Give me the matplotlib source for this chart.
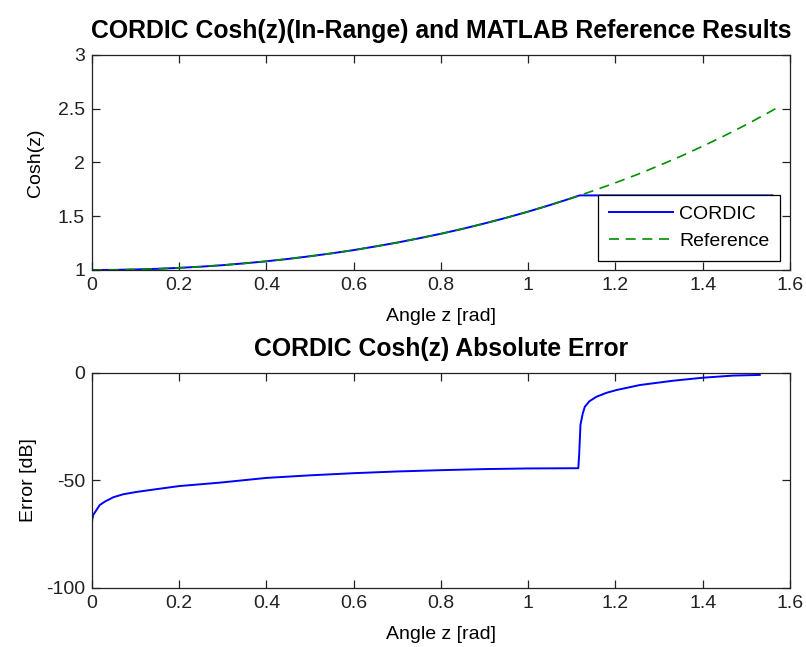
import numpy as np
import matplotlib
matplotlib.use("Agg")
import matplotlib.pyplot as plt

plt.rcParams['font.family'] = ['Liberation Sans', 'DejaVu Sans']

# top panel: reference cosh(z)
ref_z = [0, 0.05, 0.1, 0.15, 0.2, 0.25, 0.3, 0.35, 0.4, 0.45, 0.5, 0.55, 0.6,
         0.65, 0.7, 0.75, 0.8, 0.85, 0.9, 0.95, 1.0, 1.05, 1.1, 1.15, 1.2,
         1.25, 1.3, 1.35, 1.4, 1.45, 1.5, 1.55, 1.57]
ref_cosh = [1.0, 1.001, 1.005, 1.011, 1.02, 1.031, 1.045, 1.062, 1.081, 1.103,
            1.128, 1.155, 1.185, 1.219, 1.255, 1.295, 1.337, 1.383, 1.433,
            1.486, 1.543, 1.604, 1.669, 1.738, 1.811, 1.888, 1.971, 2.058,
            2.151, 2.249, 2.352, 2.462, 2.508]

# CORDIC output: follows the reference, then flat above z ~ 1.118
cordic_z = [0, 0.05, 0.1, 0.15, 0.2, 0.25, 0.3, 0.35, 0.4, 0.45, 0.5, 0.55, 0.6,
            0.65, 0.7, 0.75, 0.8, 0.85, 0.9, 0.95, 1.0, 1.05, 1.1, 1.118, 1.56]
cordic_cosh = [1.0, 1.001, 1.005, 1.011, 1.02, 1.031, 1.045, 1.062, 1.081,
               1.103, 1.128, 1.155, 1.185, 1.219, 1.255, 1.295, 1.337, 1.383,
               1.433, 1.486, 1.543, 1.604, 1.669, 1.694, 1.694]

# bottom panel: absolute error in dB
err_z = [0, 0.001, 0.003, 0.008, 0.018, 0.030, 0.049, 0.072, 0.103, 0.149,
         0.2, 0.293, 0.4, 0.5, 0.6, 0.7, 0.8, 0.9, 1.0, 1.1, 1.115, 1.117,
         1.12, 1.125, 1.13, 1.14, 1.157, 1.18, 1.203, 1.256, 1.332, 1.40,
         1.47, 1.531]
err_db = [-70, -68, -66, -64.5, -61.4, -59.8, -57.8, -56.4, -55.3, -54,
          -52.6, -51, -48.8, -47.6, -46.6, -45.8, -45.2, -44.7, -44.4, -44.3,
          -44.3, -38, -24, -19, -15.7, -13.2, -11, -9.2, -7.9, -5.6, -3.6,
          -2.2, -1.2, -0.9]

xticks = [0, 0.2, 0.4, 0.6, 0.8, 1, 1.2, 1.4, 1.6]
top_yticks = [1, 1.5, 2, 2.5, 3]
bot_yticks = [-100, -50, 0]

fs = 14
tfs = 17.8
fig = plt.figure(figsize=(8.06, 6.47), dpi=100)
ax1 = fig.add_axes([0.114, 0.5827, 0.866, 0.3323])
ax2 = fig.add_axes([0.114, 0.0912, 0.866, 0.3323])

ax1.plot(cordic_z, cordic_cosh, color='#0000ff', lw=1.4, label='CORDIC')
ax1.plot(ref_z, ref_cosh, color='#009000', lw=1.2, ls=(0, (6, 4)), label='Reference')
ax1.set_xlim(0, 1.6)
ax1.set_ylim(1, 3)
ax1.set_yticks(top_yticks)
ax1.set_yticklabels(['%g' % v for v in top_yticks])
ax1.set_xlabel('Angle z [rad]', fontsize=fs, labelpad=10)
ax1.set_ylabel('Cosh(z)', fontsize=fs, labelpad=10)
ax1.set_title('CORDIC Cosh(z)(In-Range) and MATLAB Reference Results',
              fontsize=tfs, fontweight='bold', pad=12)
leg = ax1.legend(loc='lower right', bbox_to_anchor=(0.9857, 0.042),
                 borderaxespad=0, fontsize=fs, fancybox=False, framealpha=1,
                 edgecolor='black', handlelength=3.3, handletextpad=0.3,
                 borderpad=0.55, labelspacing=0.5)
leg.get_frame().set_linewidth(0.9)

ax2.plot(err_z, err_db, color='#0000ff', lw=1.4)
ax2.set_xlim(0, 1.6)
ax2.set_ylim(-100, 0)
ax2.set_yticks(bot_yticks)
ax2.set_yticklabels(['%g' % v for v in bot_yticks])
ax2.set_xlabel('Angle z [rad]', fontsize=fs, labelpad=10)
ax2.set_ylabel('Error [dB]', fontsize=fs, labelpad=6)
ax2.set_title('CORDIC Cosh(z) Absolute Error', fontsize=tfs,
              fontweight='bold', pad=12)

for ax in (ax1, ax2):
    ax.set_xticks(xticks)
    ax.set_xticklabels(['%g' % v for v in xticks])
    ax.tick_params(direction='in', length=5.5, width=0.9, top=True,
                   right=True, labelsize=fs, pad=5, colors='#222222')
    for s in ax.spines.values():
        s.set_linewidth(0.9)
        s.set_color('#222222')

fig.savefig('out.png', dpi=100)
